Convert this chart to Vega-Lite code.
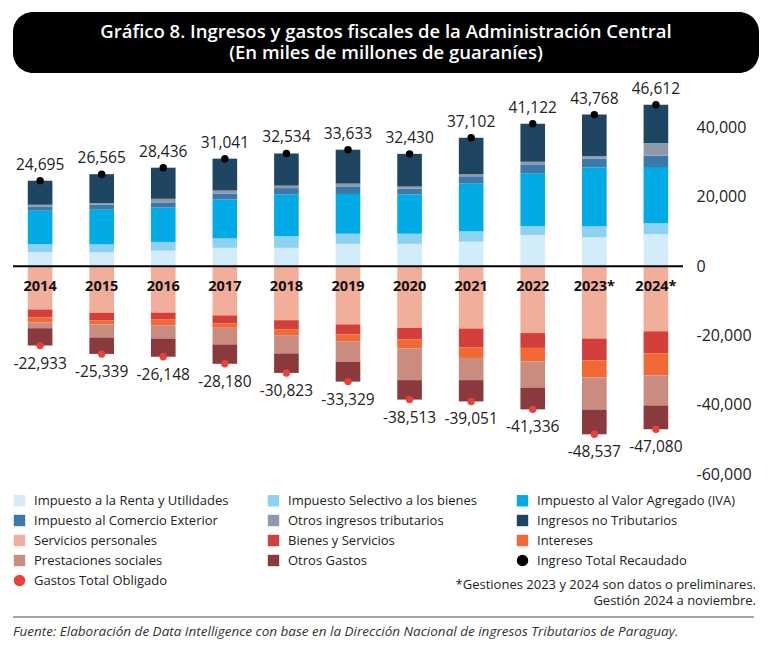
{
  "$schema": "https://vega.github.io/schema/vega-lite/v6.json",
  "padding": {"left": 12, "top": 12, "right": 5, "bottom": 5},
  "background": "white",
  "config": {
    "font": "Open Sans",
    "view": {"stroke": null},
    "locale": {"number": {"decimal": ".", "thousands": ",", "grouping": [3], "currency": ["", ""], "minus": "-"}}
  },
  "datasets": {
    "categorias": [
      {"categoria": "Impuesto a la Renta y Utilidades", "orden": 1},
      {"categoria": "Impuesto Selectivo a los bienes", "orden": 2},
      {"categoria": "Impuesto al Valor Agregado (IVA)", "orden": 3},
      {"categoria": "Impuesto al Comercio Exterior", "orden": 4},
      {"categoria": "Otros ingresos tributarios", "orden": 5},
      {"categoria": "Ingresos no Tributarios", "orden": 6},
      {"categoria": "Servicios personales", "orden": 7},
      {"categoria": "Bienes y Servicios", "orden": 8},
      {"categoria": "Intereses", "orden": 9},
      {"categoria": "Prestaciones sociales", "orden": 10},
      {"categoria": "Otros Gastos", "orden": 11}
    ],
    "segmentos": [
      {"anio": "2014", "categoria": "Impuesto a la Renta y Utilidades", "valor": 4000},
      {"anio": "2014", "categoria": "Impuesto Selectivo a los bienes", "valor": 2300},
      {"anio": "2014", "categoria": "Impuesto al Valor Agregado (IVA)", "valor": 9700},
      {"anio": "2014", "categoria": "Impuesto al Comercio Exterior", "valor": 1250},
      {"anio": "2014", "categoria": "Otros ingresos tributarios", "valor": 500},
      {"anio": "2014", "categoria": "Ingresos no Tributarios", "valor": 6945},
      {"anio": "2014", "categoria": "Servicios personales", "valor": -12500},
      {"anio": "2014", "categoria": "Bienes y Servicios", "valor": -2300},
      {"anio": "2014", "categoria": "Intereses", "valor": -1450},
      {"anio": "2014", "categoria": "Prestaciones sociales", "valor": -1700},
      {"anio": "2014", "categoria": "Otros Gastos", "valor": -4983},

      {"anio": "2015", "categoria": "Impuesto a la Renta y Utilidades", "valor": 4000},
      {"anio": "2015", "categoria": "Impuesto Selectivo a los bienes", "valor": 2300},
      {"anio": "2015", "categoria": "Impuesto al Valor Agregado (IVA)", "valor": 10000},
      {"anio": "2015", "categoria": "Impuesto al Comercio Exterior", "valor": 1450},
      {"anio": "2015", "categoria": "Otros ingresos tributarios", "valor": 500},
      {"anio": "2015", "categoria": "Ingresos no Tributarios", "valor": 8315},
      {"anio": "2015", "categoria": "Servicios personales", "valor": -13500},
      {"anio": "2015", "categoria": "Bienes y Servicios", "valor": -2100},
      {"anio": "2015", "categoria": "Intereses", "valor": -1200},
      {"anio": "2015", "categoria": "Prestaciones sociales", "valor": -3800},
      {"anio": "2015", "categoria": "Otros Gastos", "valor": -4739},

      {"anio": "2016", "categoria": "Impuesto a la Renta y Utilidades", "valor": 4500},
      {"anio": "2016", "categoria": "Impuesto Selectivo a los bienes", "valor": 2500},
      {"anio": "2016", "categoria": "Impuesto al Valor Agregado (IVA)", "valor": 9900},
      {"anio": "2016", "categoria": "Impuesto al Comercio Exterior", "valor": 1500},
      {"anio": "2016", "categoria": "Otros ingresos tributarios", "valor": 1050},
      {"anio": "2016", "categoria": "Ingresos no Tributarios", "valor": 8986},
      {"anio": "2016", "categoria": "Servicios personales", "valor": -13400},
      {"anio": "2016", "categoria": "Bienes y Servicios", "valor": -1900},
      {"anio": "2016", "categoria": "Intereses", "valor": -1750},
      {"anio": "2016", "categoria": "Prestaciones sociales", "valor": -3850},
      {"anio": "2016", "categoria": "Otros Gastos", "valor": -5248},

      {"anio": "2017", "categoria": "Impuesto a la Renta y Utilidades", "valor": 5300},
      {"anio": "2017", "categoria": "Impuesto Selectivo a los bienes", "valor": 2800},
      {"anio": "2017", "categoria": "Impuesto al Valor Agregado (IVA)", "valor": 11150},
      {"anio": "2017", "categoria": "Impuesto al Comercio Exterior", "valor": 1700},
      {"anio": "2017", "categoria": "Otros ingresos tributarios", "valor": 900},
      {"anio": "2017", "categoria": "Ingresos no Tributarios", "valor": 9191},
      {"anio": "2017", "categoria": "Servicios personales", "valor": -14200},
      {"anio": "2017", "categoria": "Bienes y Servicios", "valor": -2350},
      {"anio": "2017", "categoria": "Intereses", "valor": -1250},
      {"anio": "2017", "categoria": "Prestaciones sociales", "valor": -4800},
      {"anio": "2017", "categoria": "Otros Gastos", "valor": -5580},

      {"anio": "2018", "categoria": "Impuesto a la Renta y Utilidades", "valor": 5300},
      {"anio": "2018", "categoria": "Impuesto Selectivo a los bienes", "valor": 3350},
      {"anio": "2018", "categoria": "Impuesto al Valor Agregado (IVA)", "valor": 12000},
      {"anio": "2018", "categoria": "Impuesto al Comercio Exterior", "valor": 1900},
      {"anio": "2018", "categoria": "Otros ingresos tributarios", "valor": 700},
      {"anio": "2018", "categoria": "Ingresos no Tributarios", "valor": 9284},
      {"anio": "2018", "categoria": "Servicios personales", "valor": -15600},
      {"anio": "2018", "categoria": "Bienes y Servicios", "valor": -2600},
      {"anio": "2018", "categoria": "Intereses", "valor": -1700},
      {"anio": "2018", "categoria": "Prestaciones sociales", "valor": -5300},
      {"anio": "2018", "categoria": "Otros Gastos", "valor": -5623},

      {"anio": "2019", "categoria": "Impuesto a la Renta y Utilidades", "valor": 6450},
      {"anio": "2019", "categoria": "Impuesto Selectivo a los bienes", "valor": 2900},
      {"anio": "2019", "categoria": "Impuesto al Valor Agregado (IVA)", "valor": 11500},
      {"anio": "2019", "categoria": "Impuesto al Comercio Exterior", "valor": 2200},
      {"anio": "2019", "categoria": "Otros ingresos tributarios", "valor": 800},
      {"anio": "2019", "categoria": "Ingresos no Tributarios", "valor": 9783},
      {"anio": "2019", "categoria": "Servicios personales", "valor": -16800},
      {"anio": "2019", "categoria": "Bienes y Servicios", "valor": -2950},
      {"anio": "2019", "categoria": "Intereses", "valor": -1950},
      {"anio": "2019", "categoria": "Prestaciones sociales", "valor": -5950},
      {"anio": "2019", "categoria": "Otros Gastos", "valor": -5679},

      {"anio": "2020", "categoria": "Impuesto a la Renta y Utilidades", "valor": 6450},
      {"anio": "2020", "categoria": "Impuesto Selectivo a los bienes", "valor": 2900},
      {"anio": "2020", "categoria": "Impuesto al Valor Agregado (IVA)", "valor": 11350},
      {"anio": "2020", "categoria": "Impuesto al Comercio Exterior", "valor": 1700},
      {"anio": "2020", "categoria": "Otros ingresos tributarios", "valor": 600},
      {"anio": "2020", "categoria": "Ingresos no Tributarios", "valor": 9430},
      {"anio": "2020", "categoria": "Servicios personales", "valor": -17800},
      {"anio": "2020", "categoria": "Bienes y Servicios", "valor": -3300},
      {"anio": "2020", "categoria": "Intereses", "valor": -2600},
      {"anio": "2020", "categoria": "Prestaciones sociales", "valor": -9200},
      {"anio": "2020", "categoria": "Otros Gastos", "valor": -5613},

      {"anio": "2021", "categoria": "Impuesto a la Renta y Utilidades", "valor": 7100},
      {"anio": "2021", "categoria": "Impuesto Selectivo a los bienes", "valor": 3000},
      {"anio": "2021", "categoria": "Impuesto al Valor Agregado (IVA)", "valor": 13750},
      {"anio": "2021", "categoria": "Impuesto al Comercio Exterior", "valor": 2100},
      {"anio": "2021", "categoria": "Otros ingresos tributarios", "valor": 600},
      {"anio": "2021", "categoria": "Ingresos no Tributarios", "valor": 10552},
      {"anio": "2021", "categoria": "Servicios personales", "valor": -18000},
      {"anio": "2021", "categoria": "Bienes y Servicios", "valor": -5500},
      {"anio": "2021", "categoria": "Intereses", "valor": -3000},
      {"anio": "2021", "categoria": "Prestaciones sociales", "valor": -6400},
      {"anio": "2021", "categoria": "Otros Gastos", "valor": -6151},

      {"anio": "2022", "categoria": "Impuesto a la Renta y Utilidades", "valor": 9000},
      {"anio": "2022", "categoria": "Impuesto Selectivo a los bienes", "valor": 2500},
      {"anio": "2022", "categoria": "Impuesto al Valor Agregado (IVA)", "valor": 15300},
      {"anio": "2022", "categoria": "Impuesto al Comercio Exterior", "valor": 2600},
      {"anio": "2022", "categoria": "Otros ingresos tributarios", "valor": 750},
      {"anio": "2022", "categoria": "Ingresos no Tributarios", "valor": 10972},
      {"anio": "2022", "categoria": "Servicios personales", "valor": -19300},
      {"anio": "2022", "categoria": "Bienes y Servicios", "valor": -4300},
      {"anio": "2022", "categoria": "Intereses", "valor": -3850},
      {"anio": "2022", "categoria": "Prestaciones sociales", "valor": -7600},
      {"anio": "2022", "categoria": "Otros Gastos", "valor": -6286},

      {"anio": "2023*", "categoria": "Impuesto a la Renta y Utilidades", "valor": 8350},
      {"anio": "2023*", "categoria": "Impuesto Selectivo a los bienes", "valor": 3200},
      {"anio": "2023*", "categoria": "Impuesto al Valor Agregado (IVA)", "valor": 16900},
      {"anio": "2023*", "categoria": "Impuesto al Comercio Exterior", "valor": 2600},
      {"anio": "2023*", "categoria": "Otros ingresos tributarios", "valor": 750},
      {"anio": "2023*", "categoria": "Ingresos no Tributarios", "valor": 11968},
      {"anio": "2023*", "categoria": "Servicios personales", "valor": -20900},
      {"anio": "2023*", "categoria": "Bienes y Servicios", "valor": -6300},
      {"anio": "2023*", "categoria": "Intereses", "valor": -4900},
      {"anio": "2023*", "categoria": "Prestaciones sociales", "valor": -9300},
      {"anio": "2023*", "categoria": "Otros Gastos", "valor": -7137},

      {"anio": "2024*", "categoria": "Impuesto a la Renta y Utilidades", "valor": 9200},
      {"anio": "2024*", "categoria": "Impuesto Selectivo a los bienes", "valor": 3200},
      {"anio": "2024*", "categoria": "Impuesto al Valor Agregado (IVA)", "valor": 16200},
      {"anio": "2024*", "categoria": "Impuesto al Comercio Exterior", "valor": 3300},
      {"anio": "2024*", "categoria": "Otros ingresos tributarios", "valor": 3700},
      {"anio": "2024*", "categoria": "Ingresos no Tributarios", "valor": 11012},
      {"anio": "2024*", "categoria": "Servicios personales", "valor": -18800},
      {"anio": "2024*", "categoria": "Bienes y Servicios", "valor": -6400},
      {"anio": "2024*", "categoria": "Intereses", "valor": -6300},
      {"anio": "2024*", "categoria": "Prestaciones sociales", "valor": -8700},
      {"anio": "2024*", "categoria": "Otros Gastos", "valor": -6880}
    ],
    "totales": [
      {"anio": "2014", "categoria": "Ingreso Total Recaudado", "valor": 24695},
      {"anio": "2015", "categoria": "Ingreso Total Recaudado", "valor": 26565},
      {"anio": "2016", "categoria": "Ingreso Total Recaudado", "valor": 28436},
      {"anio": "2017", "categoria": "Ingreso Total Recaudado", "valor": 31041},
      {"anio": "2018", "categoria": "Ingreso Total Recaudado", "valor": 32534},
      {"anio": "2019", "categoria": "Ingreso Total Recaudado", "valor": 33633},
      {"anio": "2020", "categoria": "Ingreso Total Recaudado", "valor": 32430},
      {"anio": "2021", "categoria": "Ingreso Total Recaudado", "valor": 37102},
      {"anio": "2022", "categoria": "Ingreso Total Recaudado", "valor": 41122},
      {"anio": "2023*", "categoria": "Ingreso Total Recaudado", "valor": 43768},
      {"anio": "2024*", "categoria": "Ingreso Total Recaudado", "valor": 46612},
      {"anio": "2014", "categoria": "Gastos Total Obligado", "valor": -22933},
      {"anio": "2015", "categoria": "Gastos Total Obligado", "valor": -25339},
      {"anio": "2016", "categoria": "Gastos Total Obligado", "valor": -26148},
      {"anio": "2017", "categoria": "Gastos Total Obligado", "valor": -28180},
      {"anio": "2018", "categoria": "Gastos Total Obligado", "valor": -30823},
      {"anio": "2019", "categoria": "Gastos Total Obligado", "valor": -33329},
      {"anio": "2020", "categoria": "Gastos Total Obligado", "valor": -38513},
      {"anio": "2021", "categoria": "Gastos Total Obligado", "valor": -39051},
      {"anio": "2022", "categoria": "Gastos Total Obligado", "valor": -41336},
      {"anio": "2023*", "categoria": "Gastos Total Obligado", "valor": -48537},
      {"anio": "2024*", "categoria": "Gastos Total Obligado", "valor": -47080}
    ]
  },
  "bounds": "flush",
  "spacing": 20,
  "resolve": {"scale": {"color": "independent", "shape": "independent"}, "legend": {"color": "independent", "shape": "independent"}},
  "vconcat": [
    {
      "width": 746,
      "height": 61,
      "view": {"fill": "black", "cornerRadius": 20, "stroke": null},
      "data": {"values": [{"titulo": "Gráfico 8. Ingresos y gastos fiscales de la Administración Central|(En miles de millones de guaraníes)"}]},
      "mark": {"type": "text", "color": "white", "fontSize": 18.5, "fontWeight": 600, "lineBreak": "|", "lineHeight": 21, "align": "center", "baseline": "middle", "dy": -10.5},
      "encoding": {"text": {"field": "titulo", "type": "nominal"}}
    },
    {
      "bounds": "flush",
      "spacing": 142,
      "resolve": {"scale": {"color": "independent", "shape": "independent"}, "legend": {"color": "independent", "shape": "independent"}},
      "vconcat": [
        {
          "width": 670,
          "height": 381,
          "title": {
            "text": ["*Gestiones 2023  y 2024 son datos o preliminares.", "Gestión 2024 a noviembre."],
            "orient": "bottom", "anchor": "end", "fontSize": 13, "fontWeight": "normal",
            "color": "#222222", "offset": -9, "lineHeight": 16, "dx": 5
          },
          "layer": [
            {
              "data": {"name": "segmentos"},
              "transform": [
                {"lookup": "categoria", "from": {"data": {"name": "categorias"}, "key": "categoria", "fields": ["orden"]}}
              ],
              "mark": {"type": "bar"},
              "encoding": {
                "x": {"field": "anio", "type": "nominal", "axis": null, "scale": {"paddingInner": 0.6, "paddingOuter": 0.24}},
                "y": {
                  "field": "valor", "type": "quantitative", "stack": "zero",
                  "scale": {"domain": [-60000, 50000], "nice": false, "zero": false},
                  "axis": {
                    "orient": "right", "title": null, "values": [-60000, -40000, -20000, 0, 20000, 40000],
                    "format": ",d", "domain": false, "ticks": false, "grid": false,
                    "labelFontSize": 16, "labelColor": "#222222", "labelPadding": 13, "labelAlign": "left"
                  }
                },
                "color": {
                  "field": "categoria", "type": "nominal",
                  "scale": {
                    "domain": [
                      "Impuesto a la Renta y Utilidades", "Impuesto Selectivo a los bienes", "Impuesto al Valor Agregado (IVA)",
                      "Impuesto al Comercio Exterior", "Otros ingresos tributarios", "Ingresos no Tributarios",
                      "Servicios personales", "Bienes y Servicios", "Intereses",
                      "Prestaciones sociales", "Otros Gastos", "Ingreso Total Recaudado",
                      "Gastos Total Obligado"
                    ],
                    "range": [
                      "#d3ecf9", "#8dd2f3", "#00abe6",
                      "#3d79a8", "#8e99ab", "#1e4562",
                      "#f1ae9b", "#d43f3c", "#f26934",
                      "#c98c7f", "#8a393d", "#000000",
                      "#e8413b"
                    ]
                  },
                  "legend": {
                    "title": null, "orient": "bottom", "columns": 3, "direction": "horizontal",
                    "symbolSize": 130, "labelFontSize": 13, "labelColor": "#222222", "labelOffset": 8,
                    "rowPadding": 6, "columnPadding": 38, "gridAlign": "each", "offset": 20,
                    "labelLimit": 300, "symbolStrokeWidth": 0
                  }
                },
                "order": {"field": "orden", "type": "quantitative"}
              }
            },
            {
              "data": {"values": [{"cero": 0}]},
              "mark": {"type": "rule", "color": "black", "strokeWidth": 2},
              "encoding": {"y": {"field": "cero", "type": "quantitative", "title": null}}
            },
            {
              "data": {"name": "totales"},
              "mark": {"type": "point", "filled": true, "size": 55, "opacity": 1},
              "encoding": {
                "x": {"field": "anio", "type": "nominal"},
                "y": {"field": "valor", "type": "quantitative", "title": null},
                "color": {"field": "categoria", "type": "nominal"},
                "shape": {
                  "field": "categoria", "type": "nominal",
                  "scale": {
                    "domain": [
                      "Impuesto a la Renta y Utilidades", "Impuesto Selectivo a los bienes", "Impuesto al Valor Agregado (IVA)",
                      "Impuesto al Comercio Exterior", "Otros ingresos tributarios", "Ingresos no Tributarios",
                      "Servicios personales", "Bienes y Servicios", "Intereses",
                      "Prestaciones sociales", "Otros Gastos", "Ingreso Total Recaudado",
                      "Gastos Total Obligado"
                    ],
                    "range": ["square", "square", "square", "square", "square", "square", "square", "square", "square", "square", "square", "circle", "circle"]
                  },
                  "legend": {
                    "title": null, "orient": "bottom", "columns": 3, "direction": "horizontal",
                    "symbolSize": 130, "labelFontSize": 13, "labelColor": "#222222", "labelOffset": 8,
                    "rowPadding": 6, "columnPadding": 38, "gridAlign": "each", "offset": 20,
                    "labelLimit": 300, "symbolStrokeWidth": 0
                  }
                }
              }
            },
            {
              "data": {"name": "totales"},
              "transform": [{"filter": "datum.valor > 0"}],
              "mark": {"type": "text", "dy": -16, "fontSize": 15.5, "color": "#222222", "baseline": "middle"},
              "encoding": {
                "x": {"field": "anio", "type": "nominal"},
                "y": {"field": "valor", "type": "quantitative", "title": null},
                "text": {"field": "valor", "type": "quantitative", "format": ",d"}
              }
            },
            {
              "data": {"name": "totales"},
              "transform": [{"filter": "datum.valor < 0"}],
              "mark": {"type": "text", "dy": 18, "fontSize": 15.5, "color": "#222222", "baseline": "middle"},
              "encoding": {
                "x": {"field": "anio", "type": "nominal"},
                "y": {"field": "valor", "type": "quantitative", "title": null},
                "text": {"field": "valor", "type": "quantitative", "format": ",d"}
              }
            },
            {
              "data": {"name": "totales"},
              "transform": [{"filter": "datum.categoria == 'Ingreso Total Recaudado'"}],
              "mark": {"type": "text", "fontSize": 14.5, "fontWeight": "bold", "color": "#111111", "baseline": "middle"},
              "encoding": {
                "x": {"field": "anio", "type": "nominal"},
                "y": {"datum": -6000},
                "text": {"field": "anio", "type": "nominal"}
              }
            }
          ]
        },
        {
          "width": 741,
          "height": 2,
          "view": {"fill": "#a6a6a6", "stroke": null},
          "title": {
            "text": "Fuente: Elaboración de Data Intelligence con base en la Dirección Nacional de ingresos Tributarios de Paraguay.",
            "orient": "bottom", "anchor": "start", "fontStyle": "italic", "fontSize": 13.5,
            "fontWeight": "normal", "color": "#333333", "offset": 3
          },
          "data": {"values": [{"t": ""}]},
          "mark": {"type": "text"},
          "encoding": {"text": {"field": "t", "type": "nominal"}}
        }
      ]
    }
  ]
}
